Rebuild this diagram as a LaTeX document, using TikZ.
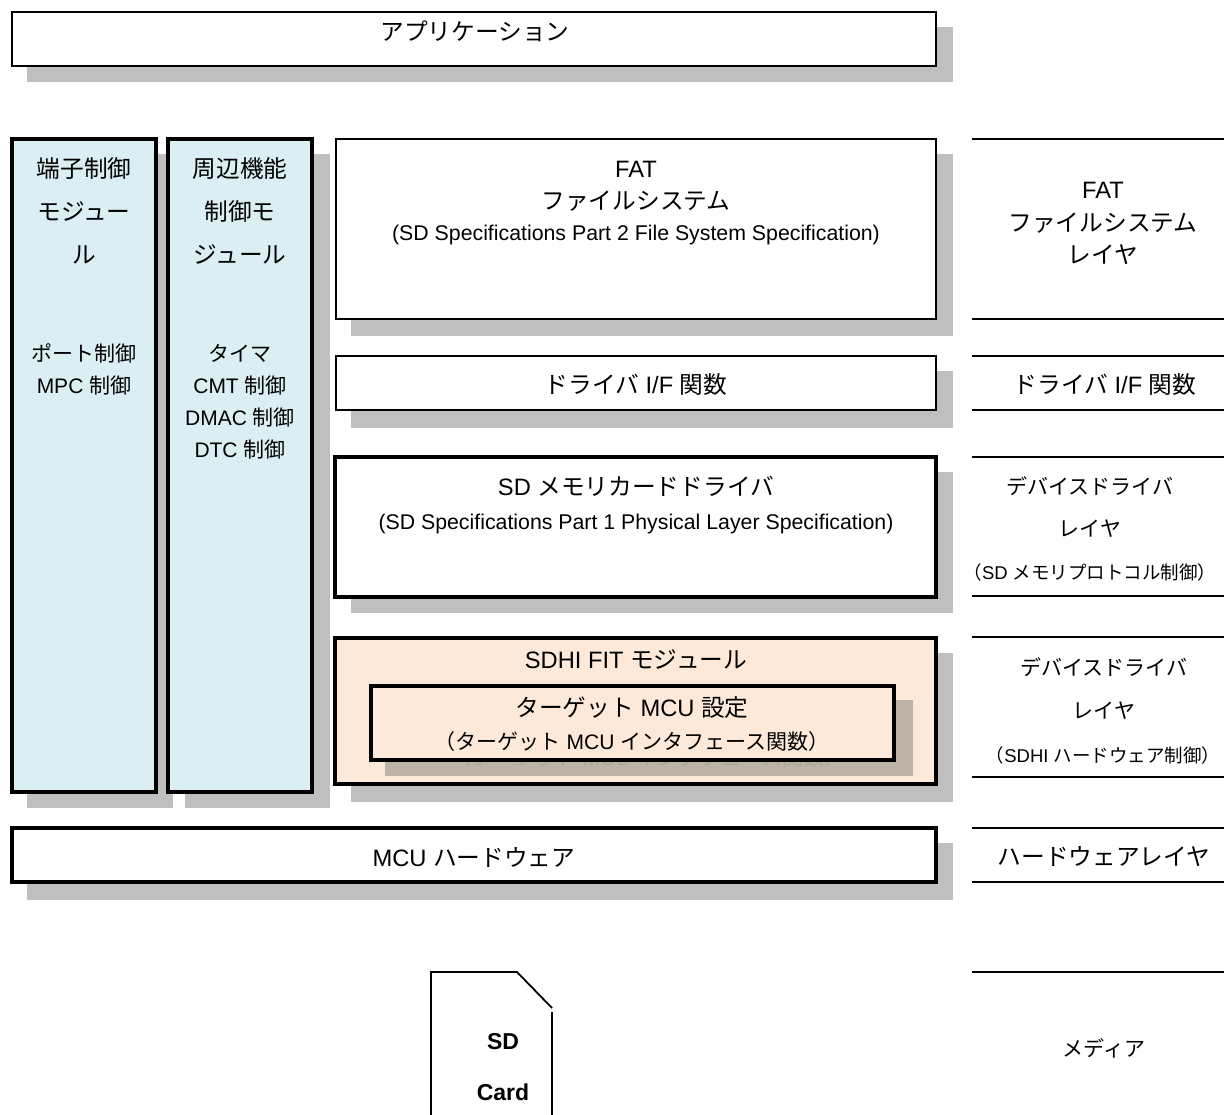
\documentclass[tikz,border=0pt]{standalone}
\usepackage{fontspec}
\setmainfont{Liberation Sans}
\newfontfamily\cjk{Noto Sans CJK JP}
\newcommand\J[1]{{\cjk #1}}
\definecolor{shadowgrey}{HTML}{BFBFBF}
\definecolor{shadowpeach}{HTML}{BBB2A8}
\definecolor{ghosttext}{HTML}{ADA49A}
\definecolor{paleblue}{HTML}{DAEEF3}
\definecolor{peach}{HTML}{FDE9D9}
\newcommand\fs[1]{\fontsize{#1}{#1}\selectfont}
\tikzset{
  thinbox/.style={draw=black,fill=white,line width=2pt,line join=miter},
  thickbox/.style={draw=black,fill=white,line width=4pt,line join=miter},
  shadowbox/.style={fill=shadowgrey},
  lbl/.style={inner sep=0pt,text height=0.8em,text depth=0.2em,anchor=center,yshift=-6.5pt,font=\fs{23.7}},
  lblsmall/.style={lbl,font=\fs{21}},
  lbltiny/.style={lbl,font=\fs{18.5}},
  lblspec/.style={lbl,yshift=1.5pt,font=\fs{21.3}},
  lblbold/.style={lbl,font=\fs{23}\bfseries},
  layerline/.style={draw=black,line width=2pt},
  cardline/.style={draw=black,line width=1.8pt,line cap=butt},
}
\begin{document}
\begin{tikzpicture}[x=1pt,y=-1pt]
\useasboundingbox (0,0) rectangle (1224,1115);
% shadows
\fill[shadowbox] (27,27) rectangle (953,82);
\fill[shadowbox] (27,154) rectangle (173,808);
\fill[shadowbox] (185,154) rectangle (330,808);
\fill[shadowbox] (351,154) rectangle (953,336);
\fill[shadowbox] (351,371) rectangle (953,428);
\fill[shadowbox] (351,472) rectangle (953,613);
\fill[shadowbox] (351,653) rectangle (953,802);
\fill[shadowbox] (27,843) rectangle (953,900);
% boxes
\draw[thinbox] (12,12) rectangle (936,66);
\draw[thickbox,fill=paleblue] (12,139) rectangle (156,792);
\draw[thickbox,fill=paleblue] (168,139) rectangle (312,792);
\draw[thinbox] (336,139) rectangle (936,319);
\draw[thinbox] (336,356) rectangle (936,410);
\draw[thickbox] (335,457) rectangle (936,597);
\draw[thickbox,fill=peach] (335,638) rectangle (936,784);
\fill[shadowpeach] (385,700) rectangle (913,776);
\node[lblsmall,text=ghosttext] (ghost) at (648,756) {\J{（ターゲット} MCU \J{インタフェース関数）}};
\draw[thickbox,fill=peach] (371,686) rectangle (894,760);
\draw[thickbox] (12,828) rectangle (936,882);
% layer rules
\foreach \yy in {139,319,356,410,457,596,637,777,828,882,972}
  \draw[layerline] (972,\yy) -- (1224,\yy);
% SD card
\draw[cardline] (431,1115) -- (431,972) -- (517,972) -- (552,1008);
\draw[cardline] (552,1012) -- (552,1115);
% labels
\node[lbl] (app) at (475,31) {\J{アプリケーション}};
\node[lbl] (a1) at (84,168) {\J{端子制御}};
\node[lbl] (a2) at (84,211) {\J{モジュー}};
\node[lbl] (a3) at (84,254) {\J{ル}};
\node[lblsmall] (a4) at (84,352) {\J{ポート制御}};
\node[lblsmall] (a5) at (84,384) {MPC \J{制御}};
\node[lbl] (b1) at (240,168) {\J{周辺機能}};
\node[lbl] (b2) at (240,211) {\J{制御モ}};
\node[lbl] (b3) at (240,254) {\J{ジュール}};
\node[lblsmall] (b4) at (240,352) {\J{タイマ}};
\node[lblsmall] (b5) at (240,384) {CMT \J{制御}};
\node[lblsmall] (b6) at (240,416) {DMAC \J{制御}};
\node[lblsmall] (b7) at (240,448) {DTC \J{制御}};
\node[lbl] (f1) at (636,168) {FAT};
\node[lbl] (f2) at (636,200) {\J{ファイルシステム}};
\node[lblspec] (f3) at (636,233) {(SD Specifications Part 2 File System Specification)};
\node[lbl] (d1) at (636,384) {\J{ドライバ} I/F \J{関数}};
\node[lbl] (s1) at (636,486) {SD \J{メモリカードドライバ}};
\node[lblspec] (s2) at (636,521) {(SD Specifications Part 1 Physical Layer Specification)};
\node[lbl] (h1) at (636,659) {SDHI FIT \J{モジュール}};
\node[lbl] (h2) at (632,707) {\J{ターゲット} MCU \J{設定}};
\node[lblsmall] (h3) at (632,740) {\J{（ターゲット} MCU \J{インタフェース関数）}};
\node[lbl] (m1) at (474,857) {MCU \J{ハードウェア}};
\node[lbl] (r1) at (1103,189) {FAT};
\node[lbl] (r2) at (1103,222) {\J{ファイルシステム}};
\node[lbl] (r3) at (1103,254) {\J{レイヤ}};
\node[lbl] (r4) at (1105,384) {\J{ドライバ} I/F \J{関数}};
\node[lblsmall] (r5) at (1090,485) {\J{デバイスドライバ}};
\node[lblsmall] (r6) at (1090,527) {\J{レイヤ}};
\node[lbltiny] (r7) at (1090,570) {\J{（}SD \J{メモリプロトコル制御）}};
\node[lblsmall] (r8) at (1104,666) {\J{デバイスドライバ}};
\node[lblsmall] (r9) at (1104,709) {\J{レイヤ}};
\node[lbltiny] (r10) at (1103,753) {\J{（}SDHI \J{ハードウェア制御）}};
\node[lbl] (r11) at (1104,856) {\J{ハードウェアレイヤ}};
\node[lblsmall] (r12) at (1104,1047) {\J{メディア}};
\node[lblbold] (c1) at (503,1040) {SD};
\node[lblbold] (c2) at (503,1091) {Card};
\end{tikzpicture}
\end{document}
